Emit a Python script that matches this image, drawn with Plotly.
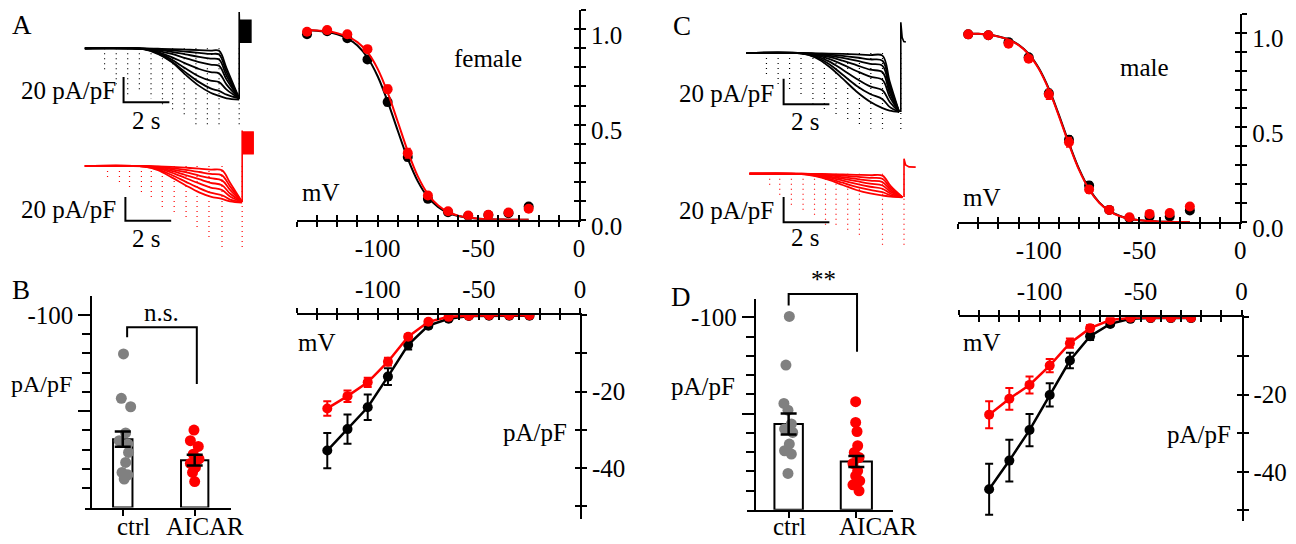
import plotly.graph_objects as go

# The page adds an 8 px body margin round the plot and the snapshot comes out
# squeezed vertically (about 0.963), so positions read off the reference are
# mapped back through that before they become paper fractions.
OFF = 8
SY = 0.963
W, H = 1296 - OFF, 556
FONT = "Liberation Serif"
BLACK = "#000000"
RED = "#ff0000"
GREY = "#808080"

# ---------------- activation curves (normalised) ----------------
act_mv = [-135, -125, -115, -105, -95, -85, -75, -65, -55, -45, -35, -25]
act_f_ctrl = [0.974, 0.99, 0.953, 0.842, 0.619, 0.33, 0.11, 0.04, 0.02, 0.025, 0.035, 0.07]
act_f_ctrl_err = [0.01, 0.01, 0.01, 0.015, 0.02, 0.02, 0.015, 0.01, 0.008, 0.008, 0.01, 0.015]
act_f_aicar = [0.987, 0.996, 0.974, 0.896, 0.686, 0.35, 0.128, 0.045, 0.023, 0.026, 0.038, 0.058]
act_f_aicar_err = [0.01, 0.01, 0.01, 0.015, 0.02, 0.025, 0.015, 0.01, 0.008, 0.008, 0.01, 0.012]
act_m_ctrl = [0.991, 0.986, 0.95, 0.87, 0.68, 0.435, 0.194, 0.065, 0.022, 0.03, 0.03, 0.062]
act_m_ctrl_err = [0.008, 0.008, 0.01, 0.012, 0.02, 0.02, 0.02, 0.01, 0.008, 0.008, 0.008, 0.01]
act_m_aicar = [0.991, 0.986, 0.942, 0.863, 0.674, 0.422, 0.173, 0.065, 0.026, 0.044, 0.048, 0.083]
act_m_aicar_err = [0.008, 0.008, 0.012, 0.015, 0.025, 0.025, 0.02, 0.01, 0.008, 0.008, 0.01, 0.012]

fit_mv = [-135, -130, -125, -120, -115, -110, -105, -100, -95, -90, -85, -80,
          -75, -70, -65, -60, -55, -50, -45, -40, -35, -30, -25]
fit_f_ctrl = [0.996, 0.992, 0.986, 0.974, 0.953, 0.915, 0.852, 0.755, 0.622, 0.469, 0.321, 0.202,
              0.119, 0.068, 0.037, 0.020, 0.011, 0.006, 0.003, 0.002, 0.001, 0.0, 0.0]
fit_f_aicar = [0.997, 0.994, 0.990, 0.980, 0.963, 0.933, 0.880, 0.794, 0.669, 0.516, 0.360, 0.228,
               0.135, 0.076, 0.041, 0.022, 0.012, 0.006, 0.003, 0.002, 0.001, 0.0, 0.0]
fit_m_ctrl = [0.996, 0.994, 0.989, 0.980, 0.964, 0.936, 0.889, 0.813, 0.704, 0.566, 0.417, 0.281,
              0.176, 0.105, 0.060, 0.034, 0.018, 0.010, 0.006, 0.003, 0.002, 0.001, 0.0]
fit_m_aicar = [0.996, 0.994, 0.989, 0.979, 0.963, 0.934, 0.886, 0.809, 0.699, 0.560, 0.411, 0.276,
               0.173, 0.103, 0.059, 0.033, 0.018, 0.010, 0.006, 0.003, 0.002, 0.001, 0.0]

# ---------------- I-V relations (pA/pF) ----------------
iv_mv = [-125, -115, -105, -95, -85, -75, -65, -55, -45, -35, -25]
iv_f_ctrl = [-35.4, -29.8, -24.1, -16.1, -7.8, -2.8, -1.0, -0.3, -0.2, -0.2, -0.2]
iv_f_ctrl_err = [4.6, 3.8, 3.3, 2.2, 1.2, 0.6, 0.3, 0.1, 0.1, 0.1, 0.1]
iv_f_aicar = [-24.4, -21.2, -17.6, -12.2, -5.7, -1.8, -0.5, -0.2, -0.1, -0.1, -0.1]
iv_f_aicar_err = [1.9, 1.5, 1.2, 1.0, 0.6, 0.4, 0.2, 0.1, 0.1, 0.1, 0.1]
iv_m_ctrl = [-44.5, -37.1, -29.2, -20.1, -11.2, -4.9, -1.7, -0.4, -0.2, -0.2, -0.2]
iv_m_ctrl_err = [6.6, 5.4, 4.2, 3.0, 2.0, 1.0, 0.5, 0.2, 0.1, 0.1, 0.1]
iv_m_aicar = [-25.2, -21.1, -17.5, -12.5, -6.7, -2.8, -0.7, -0.1, -0.1, -0.1, -0.1]
iv_m_aicar_err = [3.5, 2.8, 2.2, 1.7, 1.2, 0.8, 0.3, 0.1, 0.1, 0.1, 0.1]

# ---------------- current density bars ----------------
groups = ["ctrl", "AICAR"]
dens_f_mean = [-35.5, -24.6]
dens_f_sem = [4.0, 2.8]
dens_m_mean = [-44.6, -25.1]
dens_m_sem = [5.4, 2.9]
f_ctrl_cells = [-79.7, -56.7, -52.3, -38.7, -34.7, -33.0, -28.6, -23.4, -18.2, -17.0, -14.8]
f_ctrl_jit = [0.01, -0.02, 0.11, 0.04, -0.05, 0.07, 0.08, 0.04, -0.01, 0.07, 0.02]
f_aicar_cells = [-40.2, -34.7, -31.7, -27.7, -25.2, -22.9, -20.8, -18.2, -13.5]
f_aicar_jit = [-0.01, -0.06, 0.05, -0.02, 0.06, -0.06, 0.01, -0.03, 0.0]
m_ctrl_cells = [-100.5, -75.2, -55.3, -51.8, -44.6, -42.0, -40.2, -34.2, -30.7, -29.0, -18.9]
m_ctrl_jit = [0.01, -0.04, -0.07, -0.01, 0.04, -0.06, 0.06, 0.01, -0.06, 0.04, -0.01]
m_aicar_cells = [-56.2, -45.4, -40.7, -33.3, -29.8, -27.2, -24.1, -20.3, -17.7, -15.1, -13.0, -9.9]
m_aicar_jit = [-0.01, -0.01, 0.01, 0.02, -0.03, 0.04, -0.05, 0.02, -0.01, 0.05, -0.05, 0.04]

# ---------------- raw current sweeps (s, pA/pF) ----------------
t_fa_ctrl = [0, 2.6, 3.2, 3.8, 4.4, 5.0, 5.5, 5.87, 6.2, 6.75]
sw_fa_ctrl = [
    [0, 0, -0.3, -0.6, -1.0, -1.4, -1.8, -2, -16, -40],
    [0, -0.2, -0.8, -1.6, -2.6, -3.6, -4.5, -5, -19, -40],
    [0, -0.3, -1.3, -2.8, -4.8, -6.8, -8.2, -9, -22, -40],
    [0, -0.4, -2, -4.5, -7.8, -11, -13, -14, -25, -40],
    [0, -0.5, -3, -7, -12, -16.5, -19, -20, -29, -40],
    [0, -0.6, -3.5, -9, -16, -22.5, -25.8, -27, -33, -40],
    [0, -0.7, -4, -10.5, -19, -27, -32, -34, -37, -40],
    [0, -0.8, -4.5, -11, -21, -30, -35.5, -38, -40, -41],
]
t_fa_aicar = [0, 2.6, 3.2, 3.8, 4.4, 5.0, 5.5, 6.0, 6.35, 6.88]
sw_fa_aicar = [
    [0, 0, -0.3, -0.8, -1.4, -2.2, -3, -3.6, -14, -30],
    [0, -0.1, -0.6, -1.7, -3.2, -5, -6.6, -7.8, -17, -30],
    [0, -0.1, -1, -2.8, -5.2, -8, -10.2, -12, -20, -30],
    [0, -0.2, -1.5, -4, -7.5, -11, -14, -16, -23, -30],
    [0, -0.3, -2, -5.5, -10, -14.5, -18, -20, -25.5, -30],
    [0, -0.4, -2.8, -7.5, -13, -18.5, -22.3, -24.4, -28, -30],
    [0, -0.5, -3.5, -9.5, -16, -22, -25.5, -27.5, -29.5, -30.5],
]
t_ma_ctrl = [0, 2.4, 3.0, 3.6, 4.2, 4.8, 5.4, 5.94, 6.25, 6.67]
sw_ma_ctrl = [
    [0, 0, -0.2, -0.4, -0.7, -1.1, -1.6, -2, -22, -46],
    [0, 0, -0.5, -1.2, -2.2, -3.5, -5, -6, -25, -46],
    [0, -0.1, -0.8, -2, -3.8, -6, -8.5, -10, -28, -46],
    [0, -0.1, -1.2, -3, -6, -9.5, -13, -15, -31, -46],
    [0, -0.2, -1.6, -4.5, -9, -14, -18.5, -21, -34, -46],
    [0, -0.2, -2.2, -6.5, -13, -20, -26, -29, -38, -46],
    [0, -0.3, -3, -8.5, -17, -25.5, -32, -36, -42, -46],
    [0, -0.3, -3.5, -10.5, -20, -30, -38, -43, -45, -46],
]
t_ma_aicar = [0.13, 2.4, 3.0, 3.6, 4.2, 4.8, 5.4, 5.94, 6.3, 6.81]
sw_ma_aicar = [
    [0, 0, -0.1, -0.3, -0.6, -0.9, -1.2, -1.5, -10, -18.7],
    [0, 0, -0.3, -0.8, -1.5, -2.4, -3.3, -4, -11.5, -18.7],
    [0, -0.1, -0.6, -1.4, -2.7, -4.2, -5.6, -6.7, -13, -18.7],
    [0, -0.1, -0.9, -2.1, -4, -6, -8, -9.4, -14.5, -18.7],
    [0, -0.2, -1.2, -3, -5.5, -8.2, -10.4, -12, -16, -18.7],
    [0, -0.2, -1.5, -4, -7.2, -10.5, -13, -14.7, -17.3, -18.7],
    [0, -0.3, -2, -5, -9, -13, -15.8, -17.4, -18.3, -18.9],
]

# capacitive artefacts (time, depth)
art_fa_ctrl_t = [0.87, 1.38, 1.88, 2.39, 2.9, 3.4, 3.84, 4.35, 4.86, 5.36, 5.87, 6.75]
art_fa_ctrl_d = [-19, -30, -38, -35, -40, -47, -50, -54, -62, -62, -63, -63]
art_fa_aicar_t = [1.0, 1.52, 1.96, 2.48, 2.91, 3.39, 3.91, 4.43, 4.91, 5.43, 6.0, 6.88]
art_fa_aicar_d = [-9.2, -13.3, -17.5, -23, -28.6, -34.2, -39.7, -45.3, -53.6, -61.9, -68.6, -68.6]
art_ma_ctrl_t = [0.87, 1.38, 1.88, 2.38, 2.9, 3.4, 3.91, 4.42, 4.93, 5.43, 5.94, 6.74]
art_ma_ctrl_d = [-18.8, -25.2, -30.4, -34.3, -39.5, -44.8, -50, -52.6, -57.8, -59.1, -59.1, -60]
art_ma_aicar_t = [1.01, 1.45, 1.96, 2.47, 2.97, 3.45, 3.91, 4.42, 4.93, 5.94, 6.88]
art_ma_aicar_d = [-11.9, -18.6, -25.4, -30.7, -36, -41.4, -44, -46.7, -49.4, -57.4, -57.4]

# tail currents after the step
tail_fa_ctrl_t = [6.75, 6.75, 6.78, 6.78, 7.26, 7.26, 6.78]
tail_fa_ctrl_i = [-40, 29, 22.4, 5, 5, 22.4, 22.4]
tail_fa_aicar_t = [6.88, 6.88, 6.9, 6.9, 7.39, 7.39, 6.9]
tail_fa_aicar_i = [-30, 29.7, 28.3, 10.3, 10.3, 28.3, 28.3]
tail_ma_ctrl_t = [6.74, 6.74, 6.8, 6.87, 6.96]
tail_ma_ctrl_i = [-46, 24, 12, 9, 8.6]
tail_ma_aicar_t = [6.88, 6.88, 6.95, 7.1, 7.39]
tail_ma_aicar_i = [-18.7, 12, 7, 5.5, 5.3]


def px(x):
    return (x - OFF) / W


def py(y):
    return 1 - (y / SY - OFF) / H


def xdom(a, b):
    return [max(px(a), 0), min(px(b), 1)]


def ydom(top, bottom):
    return [max(py(bottom), 0), min(py(top), 1)]


fig = go.Figure()


def sweeps(times, family, color, xa, ya):
    for cur in family:
        fig.add_trace(go.Scatter(
            x=times, y=cur, mode="lines", xaxis=xa, yaxis=ya, hoverinfo="skip",
            line=dict(color=color, width=1.8, shape="spline", smoothing=1),
        ))


def artefacts(t, depth, color, xa, ya):
    xs, ys = [], []
    for ti, d in zip(t, depth):
        xs += [ti, ti, None]
        ys += [0, d, None]
    fig.add_trace(go.Scatter(
        x=xs, y=ys, mode="lines", xaxis=xa, yaxis=ya, hoverinfo="skip",
        line=dict(color=color, width=1.2, dash="1px,4px"),
    ))


def tail(t, cur, color, xa, ya, filled):
    fig.add_trace(go.Scatter(
        x=t, y=cur, mode="lines", xaxis=xa, yaxis=ya, hoverinfo="skip",
        fill="toself" if filled else None, fillcolor=color,
        line=dict(color=color, width=1.6),
    ))


def scale_bar(x0, y0, xa, ya):
    # 20 pA/pF vertical, 2 s horizontal
    fig.add_trace(go.Scatter(
        x=[x0, x0, x0 + 2], y=[y0, y0 - 20, y0 - 20], mode="lines",
        xaxis=xa, yaxis=ya, hoverinfo="skip", line=dict(color=BLACK, width=2),
    ))


for t, sw, art_t, art_d, tt, ti, col, filled, ax, sb in [
    (t_fa_ctrl, sw_fa_ctrl, art_fa_ctrl_t, art_fa_ctrl_d, tail_fa_ctrl_t, tail_fa_ctrl_i, BLACK, True, 1, (1.7, -23)),
    (t_fa_aicar, sw_fa_aicar, art_fa_aicar_t, art_fa_aicar_d, tail_fa_aicar_t, tail_fa_aicar_i, RED, True, 2, (1.78, -25.8)),
    (t_ma_ctrl, sw_ma_ctrl, art_ma_ctrl_t, art_ma_ctrl_d, tail_ma_ctrl_t, tail_ma_ctrl_i, BLACK, False, 3, (1.62, -20)),
    (t_ma_aicar, sw_ma_aicar, art_ma_aicar_t, art_ma_aicar_d, tail_ma_aicar_t, tail_ma_aicar_i, RED, False, 4, (1.62, -18.7)),
]:
    xa, ya = f"x{ax}", f"y{ax}"
    artefacts(art_t, art_d, col, xa, ya)
    sweeps(t, sw, col, xa, ya)
    tail(tt, ti, col, xa, ya, filled)
    scale_bar(sb[0], sb[1], xa, ya)


def act_panel(xa, ya, ctrl, ctrl_err, aicar, aicar_err, fit_c, fit_a):
    for y, err, fit, col in [(ctrl, ctrl_err, fit_c, BLACK), (aicar, aicar_err, fit_a, RED)]:
        fig.add_trace(go.Scatter(
            x=act_mv, y=y, mode="markers", xaxis=xa, yaxis=ya,
            marker=dict(color=col, size=10),
            error_y=dict(type="data", array=err, color=col, thickness=1.5, width=3),
        ))
        fig.add_trace(go.Scatter(
            x=fit_mv, y=fit, mode="lines", xaxis=xa, yaxis=ya,
            line=dict(color=col, width=2, shape="spline"),
        ))


def iv_panel(xa, ya, ctrl, ctrl_err, aicar, aicar_err):
    for y, err, col in [(ctrl, ctrl_err, BLACK), (aicar, aicar_err, RED)]:
        fig.add_trace(go.Scatter(
            x=iv_mv, y=y, mode="lines+markers", xaxis=xa, yaxis=ya,
            marker=dict(color=col, size=10), line=dict(color=col, width=2.5),
            error_y=dict(type="data", array=err, color=col, thickness=2, width=4),
        ))


def bar_panel(xa, ya, mean, sem, c_cells, c_jit, a_cells, a_jit, widths):
    fig.add_trace(go.Bar(
        x=[0, 1], y=mean, width=widths, xaxis=xa, yaxis=ya,
        marker=dict(color="white", line=dict(color=BLACK, width=2)),
    ))
    for cells, jit, base, col in [(c_cells, c_jit, 0, GREY), (a_cells, a_jit, 1, RED)]:
        fig.add_trace(go.Scatter(
            x=[base + j for j in jit], y=cells, mode="markers", xaxis=xa, yaxis=ya,
            marker=dict(color=col, size=11),
        ))
    fig.add_trace(go.Scatter(
        x=[0, 1], y=mean, mode="markers", xaxis=xa, yaxis=ya,
        marker=dict(color=BLACK, size=1, opacity=0),
        error_y=dict(type="data", array=sem, color=BLACK, thickness=2.5, width=8),
    ))


act_panel("x5", "y5", act_f_ctrl, act_f_ctrl_err, act_f_aicar, act_f_aicar_err, fit_f_ctrl, fit_f_aicar)
act_panel("x7", "y7", act_m_ctrl, act_m_ctrl_err, act_m_aicar, act_m_aicar_err, fit_m_ctrl, fit_m_aicar)
iv_panel("x9", "y9", iv_f_ctrl, iv_f_ctrl_err, iv_f_aicar, iv_f_aicar_err)
iv_panel("x11", "y11", iv_m_ctrl, iv_m_ctrl_err, iv_m_aicar, iv_m_aicar_err)
bar_panel("x13", "y13", dens_f_mean, dens_f_sem, f_ctrl_cells, f_ctrl_jit, f_aicar_cells, f_aicar_jit, [0.27, 0.38])
bar_panel("x14", "y14", dens_m_mean, dens_m_sem, m_ctrl_cells, m_ctrl_jit, m_aicar_cells, m_aicar_jit, [0.42, 0.46])

# empty traces that carry the overlay axes (ticks on the inner side)
for n in (6, 8, 10, 12):
    fig.add_trace(go.Scatter(x=[None], y=[None], xaxis=f"x{n}", yaxis=f"y{n}", hoverinfo="skip"))

TXT = 25
tick_font = dict(family=FONT, size=TXT, color=BLACK)
mv_ticks = list(range(-140, 1, 10))
mv_text = [str(v) if v in (-100, -50, 0) else "" for v in mv_ticks]
act_ticks = [round(i * 0.1, 1) for i in range(12)]
act_text = {0.0: "0.0", 0.5: "0.5", 1.0: "1.0"}
act_ticktext = [act_text.get(v, "") for v in act_ticks]
iv_ticks = [-50, -40, -30, -20, -10, 0]
iv_text = ["", "-40", "", "-20", "", ""]


def main_axis(**kw):
    d = dict(showgrid=False, zeroline=False, showline=True, linecolor=BLACK, linewidth=2,
             ticks="outside", ticklen=5, tickwidth=2, tickcolor=BLACK, tickfont=tick_font,
             tickmode="array")
    d.update(kw)
    return d


def inner_axis(**kw):
    d = dict(showgrid=False, zeroline=False, showline=False, ticks="inside", ticklen=5,
             tickwidth=2, tickcolor=BLACK, showticklabels=False, tickmode="array")
    d.update(kw)
    return d


hidden = dict(visible=False, showgrid=False, zeroline=False)

layout = dict(
    width=W, height=H, margin=dict(l=0, r=0, t=0, b=0),
    paper_bgcolor="white", plot_bgcolor="rgba(0,0,0,0)", showlegend=False,
    font=dict(family=FONT, color=BLACK),
    xaxis=dict(hidden, domain=xdom(85, 255), range=[0, 7.39], anchor="y"),
    yaxis=dict(hidden, domain=ydom(8, 128), range=[-64, 32], anchor="x"),
    xaxis2=dict(hidden, domain=xdom(85, 255), range=[0, 7.39], anchor="y2"),
    yaxis2=dict(hidden, domain=ydom(125, 250), range=[-70.6, 33.9], anchor="x2"),
    xaxis3=dict(hidden, domain=xdom(745, 925), range=[-0.217, 7.61], anchor="y3"),
    yaxis3=dict(hidden, domain=ydom(8, 130), range=[-60.4, 34.9], anchor="x3"),
    xaxis4=dict(hidden, domain=xdom(745, 925), range=[-0.217, 7.61], anchor="y4"),
    yaxis4=dict(hidden, domain=ydom(125, 250), range=[-61.4, 38.6], anchor="x4"),
)

# activation panels (A: x5/y5, C: x7/y7) with overlay axes for crossing ticks
for m, o, xd, yd in [(5, 6, xdom(298.3, 581.7), ydom(10, 219.3)),
                     (7, 8, xdom(962.6, 1246), ydom(13.4, 221.7))]:
    layout[f"xaxis{m}"] = main_axis(domain=xd, range=[-140, 0], anchor=f"y{m}", side="bottom",
                                    tickvals=mv_ticks, ticktext=mv_text)
    layout[f"yaxis{m}"] = main_axis(domain=yd, range=[0, 1.1], anchor=f"x{m}", side="right",
                                    tickvals=act_ticks, ticktext=act_ticktext, ticklabelshift=6)
    layout[f"xaxis{o}"] = inner_axis(overlaying=f"x{m}", range=[-140, 0], anchor=f"y{o}",
                                     side="bottom", tickvals=mv_ticks)
    layout[f"yaxis{o}"] = inner_axis(overlaying=f"y{m}", range=[0, 1.1], anchor=f"x{o}",
                                     side="right", tickvals=act_ticks)

# I-V panels (B: x9/y9, D: x11/y11)
for m, o, xd, yd, yr in [(9, 10, xdom(298.3, 582.7), ydom(314.3, 518.3), [-53.3, 0]),
                         (11, 12, xdom(963.3, 1247.3), ydom(316.7, 520), [-52.7, 0])]:
    layout[f"xaxis{m}"] = main_axis(domain=xd, range=[-140, 0], anchor=f"y{m}", side="top",
                                    tickvals=mv_ticks, ticktext=mv_text)
    layout[f"yaxis{m}"] = main_axis(domain=yd, range=yr, anchor=f"x{m}", side="right",
                                    tickvals=iv_ticks, ticktext=iv_text)
    layout[f"xaxis{o}"] = inner_axis(overlaying=f"x{m}", range=[-140, 0], anchor=f"y{o}",
                                     side="top", tickvals=mv_ticks)
    layout[f"yaxis{o}"] = inner_axis(overlaying=f"y{m}", range=yr, anchor=f"x{o}",
                                     side="right", tickvals=iv_ticks)

# bar panels
minor_vals = [-90, -80, -70, -60, -40, -30, -20, -10]
for n, xd, yd, xr, ypos, ytop in [(13, xdom(85, 231.7), ydom(295, 506.7), [-0.53, 1.5], 91.7, -110.0),
                                  (14, xdom(750, 897.3), ydom(298.3, 509), [-0.622, 1.544], 758.3, -109.6)]:
    layout[f"xaxis{n}"] = main_axis(domain=xd, range=xr, anchor=f"y{n}", tickvals=[0, 1],
                                    showticklabels=False, ticklen=6)
    layout[f"yaxis{n}"] = main_axis(domain=yd, range=[0, ytop], anchor="free", position=px(ypos),
                                    tickvals=[-100, -50], ticktext=["-100", ""], ticklen=12,
                                    minor=dict(tickmode="array", tickvals=minor_vals, ticks="outside",
                                               ticklen=8, tickwidth=2, tickcolor=BLACK))

annotations = []


def note(text, x, y, size=TXT, xanchor="center"):
    annotations.append(dict(text=text, x=px(x), y=py(y), xref="paper", yref="paper",
                            showarrow=False, xanchor=xanchor, yanchor="middle",
                            font=dict(family=FONT, size=size, color=BLACK)))


for letter, x, y in [("A", 22, 25), ("B", 21, 289), ("C", 685, 26), ("D", 684, 296)]:
    note(letter, x, y, size=27)
for x, y in [(119, 90), (119, 209), (780, 93), (780, 210)]:
    note("20 pA/pF", x, y, xanchor="right")
for x, y in [(147, 120), (147, 238), (809, 121), (809, 237)]:
    note("2 s", x, y)
note("female", 490, 58)
note("male", 1150, 67)
for x, y in [(322, 192), (987, 197), (318, 342), (987, 342)]:
    note("mV", x, y)
for x, y, s in [(537, 432, TXT), (1205, 434, TXT), (42, 383, 24), (706, 386, TXT)]:
    note("pA/pF", x, y, size=s)
note("n.s.", 162, 312)
note("**", 827, 279)
for label, x in zip(groups, [134, 206]):
    note(label, x, 526)
for label, x in zip(groups, [793, 882]):
    note(label, x, 526)


def bracket(pts):
    path = " ".join(("M" if i == 0 else "L") + f" {px(x):.5f},{py(y):.5f}"
                    for i, (x, y) in enumerate(pts))
    return dict(type="path", path=path, xref="paper", yref="paper", line=dict(color=BLACK, width=2))


layout["shapes"] = [
    bracket([(127.7, 336.7), (127.7, 326.7), (197.7, 326.7), (197.7, 383.3)]),
    bracket([(792.3, 305), (792.3, 293.3), (861, 293.3), (861, 351)]),
]
layout["annotations"] = annotations

fig.update_layout(**layout)
fig.write_html("out.html")
